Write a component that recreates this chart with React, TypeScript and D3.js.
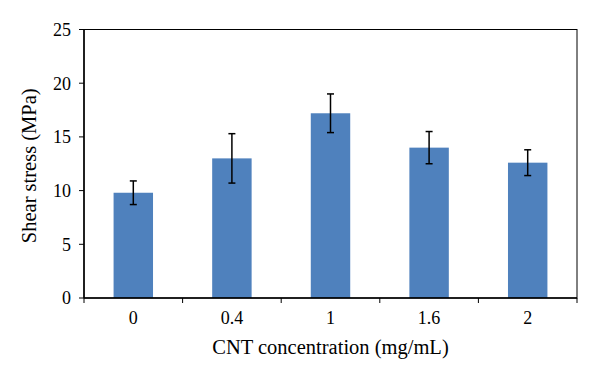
import React from "react";
import * as d3 from "d3";

const categories = ["0", "0.4", "1", "1.6", "2"];
const values = [9.8, 13.0, 17.2, 14.0, 12.6];
const errors = [1.1, 2.3, 1.8, 1.5, 1.2];
const yTicks = [0, 5, 10, 15, 20, 25];

const W = 600;
const H = 381;
const M = { left: 84, right: 23, top: 29.5, bottom: 83 };

export default function App() {
  const x = d3
    .scaleBand<string>()
    .domain(categories)
    .range([M.left, W - M.right])
    .paddingInner(0.6)
    .paddingOuter(0.3);
  const y = d3.scaleLinear().domain([0, 25]).range([H - M.bottom, M.top]);
  const x0 = M.left;
  const x1 = W - M.right;
  const yb = y(0);
  const font = "Liberation Serif, DejaVu Serif, serif";
  const fs = 18;
  const ts = 20.5;
  const boundaries = d3.range(categories.length + 1).map((i) => x0 + ((x1 - x0) * i) / categories.length);

  return (
    <svg
      width={W}
      height={H}
      style={{ position: "absolute", left: 0, top: 0, background: "#fff", fontFamily: font }}
    >
      <rect x={0} y={0} width={W} height={H} fill="#fff" />
      {categories.map((c, i) => (
        <rect
          key={c}
          x={x(c)}
          y={y(values[i])}
          width={x.bandwidth()}
          height={yb - y(values[i])}
          fill="#4F81BD"
        />
      ))}
      {categories.map((c, i) => {
        const cx = (x(c) as number) + x.bandwidth() / 2;
        const t = y(values[i] + errors[i]);
        const b = y(values[i] - errors[i]);
        return (
          <g key={"e" + c} stroke="#000" strokeWidth={1.5}>
            <line x1={cx} x2={cx} y1={t} y2={b} />
            <line x1={cx - 3.5} x2={cx + 3.5} y1={t} y2={t} />
            <line x1={cx - 3.5} x2={cx + 3.5} y1={b} y2={b} />
          </g>
        );
      })}
      <rect x={x0} y={M.top} width={x1 - x0} height={yb - M.top} fill="none" stroke="#000" strokeWidth={1} />
      <line x1={x0} x2={x0} y1={M.top} y2={yb} stroke="#000" strokeWidth={1.5} />
      <line x1={x0} x2={x1} y1={yb} y2={yb} stroke="#000" strokeWidth={1.5} />
      {yTicks.map((t) => (
        <g key={"y" + t}>
          <line x1={x0 - 5} x2={x0} y1={y(t)} y2={y(t)} stroke="#000" strokeWidth={1} />
          <text x={71} y={y(t)} dy="0.35em" textAnchor="end" fontSize={fs} fill="#000">
            {t}
          </text>
        </g>
      ))}
      {boundaries.map((bx, i) => (
        <line key={"xt" + i} x1={bx} x2={bx} y1={yb} y2={yb + 5} stroke="#000" strokeWidth={1} />
      ))}
      {categories.map((c) => (
        <text
          key={"xl" + c}
          x={(x(c) as number) + x.bandwidth() / 2}
          y={324}
          textAnchor="middle"
          fontSize={fs}
          fill="#000"
        >
          {c}
        </text>
      ))}
      <text x={(x0 + x1) / 2} y={354} textAnchor="middle" fontSize={ts} fill="#000">
        CNT concentration (mg/mL)
      </text>
      <text
        transform={`translate(36, ${(M.top + yb) / 2 + 2}) rotate(-90)`}
        textAnchor="middle"
        fontSize={ts}
        fill="#000"
      >
        Shear stress (MPa)
      </text>
    </svg>
  );
}
